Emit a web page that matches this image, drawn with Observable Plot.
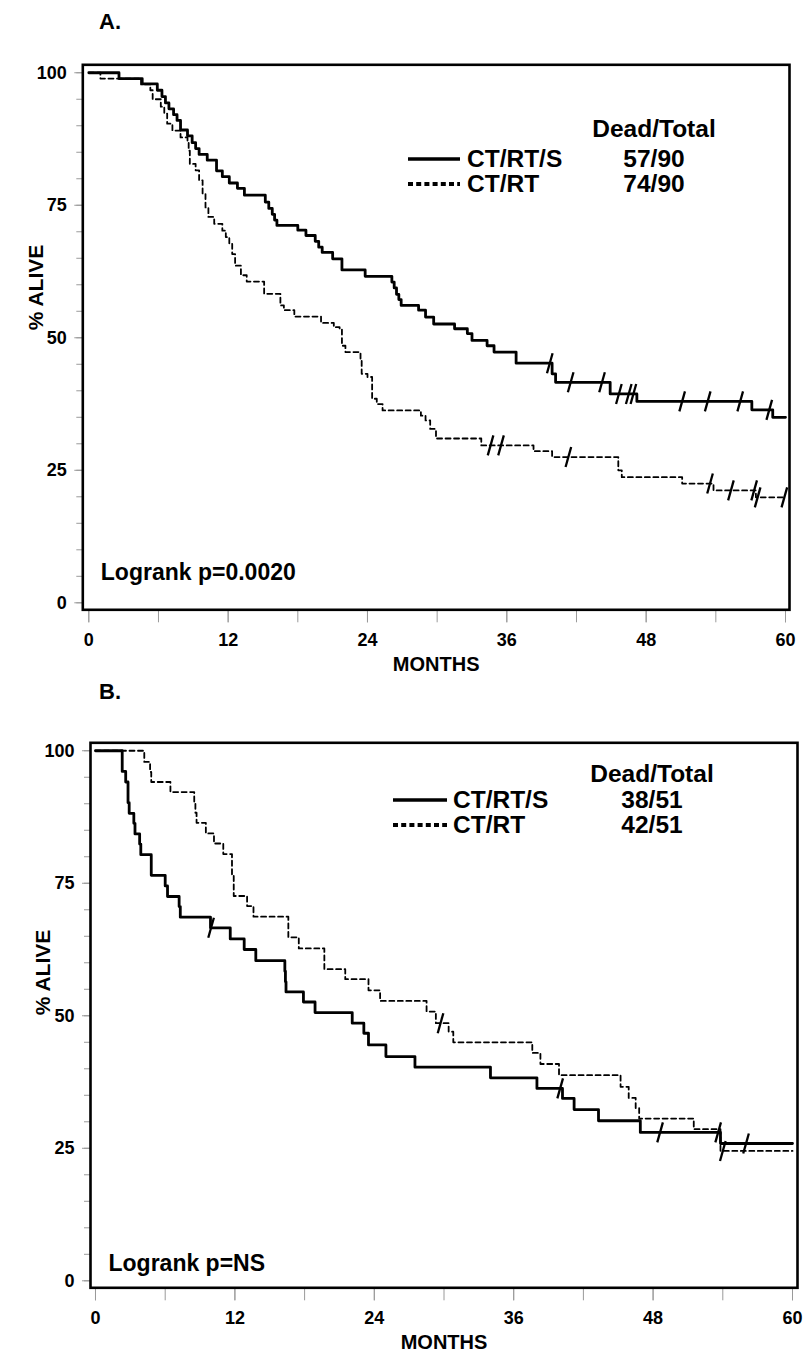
<!DOCTYPE html>
<html><head><meta charset="utf-8">
<script src="https://cdn.jsdelivr.net/npm/d3@7"></script>
<script src="https://cdn.jsdelivr.net/npm/@observablehq/plot@0.6"></script>
<style>
html,body{margin:0;padding:0;background:#fff;}
body{width:807px;height:1359px;position:relative;overflow:hidden;font-family:"Liberation Sans",Arial,sans-serif;font-weight:bold;color:#000;}
.panel{position:absolute;left:0;}
.title{position:absolute;font-size:22px;font-weight:bold;line-height:1;}
.legend{position:absolute;left:0;top:0;overflow:visible;}
</style></head><body>
<script>
// ---------- data ----------
const monthTicks = [0, 12, 24, 36, 48, 60];
const monthMinorTicks = [0, 6, 12, 18, 24, 30, 36, 42, 48, 54, 60];
const pctTicks = [0, 25, 50, 75, 100];
const pctMinorTicks = [0, 5, 10, 15, 20, 25, 30, 35, 40, 45, 50, 55, 60, 65, 70, 75, 80, 85, 90, 95, 100];
const seriesNames = ["CT/RT/S", "CT/RT"];

// Panel A  [month, % alive] — value after each step
const solidA = [[0,100],[2.6,98.9],[4.6,97.9],[5.9,96.7],[6.3,95.5],[6.6,94.3],[6.9,93.2],[7.3,92.1],[7.6,91.0],[7.9,89.2],[8.5,88.1],[8.9,86.8],[9.2,85.7],[9.5,84.6],[10.2,83.5],[11.0,81.5],[11.5,80.4],[12.1,79.2],[12.8,78.2],[13.4,76.9],[15.2,75.6],[15.5,74.4],[15.8,73.3],[16.0,72.2],[16.2,71.2],[18.0,70.3],[18.7,69.3],[19.5,68.2],[19.8,67.1],[20.1,66.1],[21.0,64.9],[21.8,62.8],[23.8,61.6],[26.1,60.5],[26.3,59.4],[26.5,58.2],[26.7,57.2],[26.9,56.1],[28.4,55.2],[29.0,53.9],[29.7,52.6],[31.5,51.7],[32.6,50.8],[33.0,49.5],[34.3,48.5],[34.9,47.3],[36.8,45.2],[39.9,43.2],[40.2,41.6],[44.9,39.4],[47.2,38.0],[57.1,36.4],[58.9,35.0],[60,35.0]];
const censSolidA = [39.7, 41.5, 44.2, 45.65, 46.5, 46.9, 51.1, 53.3, 56.1, 58.6];
const dashedA = [[0,100],[1.0,98.9],[4.5,97.8],[5.3,96.7],[5.5,95.0],[6.2,93.6],[6.5,92.3],[6.75,90.4],[7.2,89.1],[7.9,87.8],[8.5,87.2],[8.6,85.3],[8.7,82.8],[9.2,81.6],[9.5,79.7],[9.8,77.2],[10.05,74.6],[10.3,72.8],[10.8,71.5],[11.5,70.2],[11.8,69.0],[12.1,67.7],[12.35,65.8],[12.6,63.6],[13.1,61.8],[13.6,60.6],[15.1,58.3],[16.5,56.1],[16.8,55.2],[17.7,54.0],[20.0,52.8],[21.1,52.0],[21.6,51.6],[21.8,48.5],[22.1,47.3],[23.4,45.7],[23.5,43.2],[24.0,42.6],[24.4,38.5],[24.8,37.5],[25.3,36.3],[28.6,35.3],[29.0,34.4],[29.4,32.8],[29.9,31.0],[33.8,29.7],[38.3,28.6],[39.9,27.5],[45.6,25.0],[45.9,23.7],[51.1,22.5],[53.8,21.2],[57.45,19.9],[60,19.9]];
const censDashedA = [34.6, 35.5, 41.3, 53.5, 55.3, 57.3, 57.6, 59.9];
const deadTotalA = ["57/90", "74/90"];

// Panel B
const solidB = [[0,100],[2.3,96.1],[2.6,94.1],[2.8,90.2],[2.9,88.2],[3.3,86.3],[3.4,84.3],[3.8,82.4],[3.9,80.4],[4.8,76.5],[6.0,74.5],[6.2,72.5],[7.2,70.6],[7.3,68.6],[9.9,66.6],[11.6,64.5],[12.8,62.5],[13.8,60.4],[16.3,58.4],[16.35,56.4],[16.4,54.5],[17.9,52.6],[18.9,50.6],[22.1,48.6],[23.1,46.7],[23.5,44.5],[25.0,42.3],[27.5,40.3],[34.0,38.3],[38.0,36.3],[40.2,34.4],[41.2,32.3],[43.3,30.2],[46.9,28.0],[53.8,25.9],[60,25.9]];
const censSolidB = [9.95, 40.0, 48.6, 53.6, 56.0];
const dashedB = [[0,100],[4.2,97.9],[4.7,96.0],[4.8,94.1],[6.45,92.2],[8.5,90.3],[8.6,88.3],[8.7,86.4],[9.5,84.4],[10.2,82.5],[11.0,80.5],[11.75,76.5],[11.9,72.6],[13.05,70.7],[13.6,68.7],[16.6,64.8],[17.5,62.7],[19.7,58.8],[21.5,56.9],[23.5,54.8],[24.5,52.8],[28.5,50.8],[29.3,48.6],[30.4,47.0],[30.8,45.0],[37.6,43.0],[38.3,40.9],[39.9,38.8],[45.2,36.6],[45.9,34.5],[46.5,32.6],[46.8,30.6],[51.5,28.6],[53.8,24.5],[60,24.5]];
const censDashedB = [29.7, 54.0];
const deadTotalB = ["38/51", "42/51"];

// ---------- drawing ----------
const FONT = '"Liberation Sans", Arial, sans-serif';
const slash = {
  draw(ctx, size) {
    const h = Math.sqrt(size / Math.PI); // = r
    ctx.moveTo(-0.28 * h, h);
    ctx.lineTo(0.28 * h, -h);
  }
};
function valueAt(curve, t) {
  let v = curve[0][1];
  for (const [ti, vi] of curve) if (ti <= t) v = vi;
  return v;
}
function panel(cfg) {
  const toObj = (arr) => arr.map(([t, s]) => ({t, s}));
  const cens = (curve, times) => times.map((t) => ({t, s: valueAt(curve, t)}));
  const H = 680;
  return Plot.plot({
    width: 807, height: H,
    marginLeft: cfg.frameLeft, marginRight: 807 - cfg.frameRight,
    marginTop: 64.3, marginBottom: H - 609.3,
    x: {domain: cfg.xDomain},
    y: {domain: [-1.32, 101.5]},
    style: {fontFamily: FONT, fontWeight: "bold", color: "#000", background: "transparent", overflow: "visible"},
    marks: [
      Plot.axisX(monthMinorTicks, {tickSize: 13, stroke: "#9a9a9a", text: null, label: null}),
      Plot.axisX(monthTicks, {tickSize: 13, tickPadding: 10, stroke: "#9a9a9a", fill: "#000", fontSize: 18, fontWeight: "bold", label: null}),
      Plot.axisY(pctMinorTicks, {tickSize: 6, stroke: "#9a9a9a", text: null, label: null}),
      Plot.axisY(pctTicks, {tickSize: 8, tickPadding: 8, stroke: "#9a9a9a", fill: "#000", fontSize: 18, fontWeight: "bold", label: null}),
      Plot.line(toObj(cfg.dashed), {x: "t", y: "s", curve: "step-after", stroke: "#000", strokeWidth: 1.8, strokeDasharray: "5,3.5"}),
      Plot.line(toObj(cfg.solid), {x: "t", y: "s", curve: "step-after", stroke: "#000", strokeWidth: 2.8}),
      Plot.dot(cens(cfg.solid, cfg.censSolid), {x: "t", y: "s", symbol: slash, r: 10, fill: "none", stroke: "#000", strokeWidth: 2.3}),
      Plot.dot(cens(cfg.dashed, cfg.censDashed), {x: "t", y: "s", symbol: slash, r: 10, fill: "none", stroke: "#000", strokeWidth: 2.3}),
      Plot.frame({stroke: "#000", strokeWidth: 2.6}),
      Plot.text([cfg.logrank], {frameAnchor: "bottom-left", dx: 18, dy: cfg.logrankDy, textAnchor: "start", lineAnchor: "middle", fontSize: 23, fontWeight: "bold", fill: "#000"}),
      Plot.text(["% ALIVE"], {frameAnchor: "left", dx: -47, dy: cfg.ylabelDy, rotate: -90, fontSize: 21, fontWeight: "bold", fill: "#000"}),
      Plot.text(["MONTHS"], {frameAnchor: "bottom", dy: 55, lineAnchor: "middle", fontSize: 20, fontWeight: "bold", fill: "#000"})
    ]
  });
}

function addPanel(top, cfg, title, leg) {
  const wrap = document.createElement("div");
  wrap.className = "panel";
  wrap.style.top = top + "px";
  wrap.appendChild(panel(cfg));
  document.body.appendChild(wrap);

  const t = document.createElement("div");
  t.className = "title";
  t.textContent = title;
  t.style.left = leg.titleX + "px";
  t.style.top = leg.titleY + "px";
  document.body.appendChild(t);

  // legend
  const svg = d3.select(document.body).append("svg").attr("class", "legend")
    .attr("width", 807).attr("height", 1359)
    .style("font-family", FONT).style("font-weight", "bold").style("font-size", "24.5px");
  svg.append("text").attr("x", leg.numX).attr("y", leg.headY).attr("text-anchor", "middle").text("Dead/Total");
  seriesNames.forEach((name, i) => {
    const y = leg.rowY[i];
    svg.append("line").attr("x1", leg.lineX[0]).attr("x2", leg.lineX[1])
      .attr("y1", y - 8).attr("y2", y - 8).attr("stroke", "#000")
      .attr("stroke-width", i === 0 ? 3.4 : 3.8)
      .attr("stroke-dasharray", i === 0 ? null : "5,3.2");
    svg.append("text").attr("x", leg.nameX).attr("y", y).text(name);
    svg.append("text").attr("x", leg.numX).attr("y", y).attr("text-anchor", "middle").text(leg.counts[i]);
  });
}

addPanel(0, {
  solid: solidA, dashed: dashedA, censSolid: censSolidA, censDashed: censDashedA,
  frameLeft: 82.3, frameRight: 789, xDomain: [-0.517, 60.344],
  logrank: "Logrank p=0.0020", logrankDy: -37, ylabelDy: -7
}, "A.", {titleX: 99, titleY: 11, headY: 137, rowY: [167, 192], lineX: [408, 460], nameX: 467, numX: 654, counts: deadTotalA});

addPanel(678.4, {
  solid: solidB, dashed: dashedB, censSolid: censSolidB, censDashed: censDashedB,
  frameLeft: 90, frameRight: 797, xDomain: [-0.43, 60.43],
  logrank: "Logrank p=NS", logrankDy: -24, ylabelDy: 0
}, "B.", {titleX: 99, titleY: 681, headY: 782, rowY: [808, 833], lineX: [393, 447], nameX: 453, numX: 652, counts: deadTotalB});
</script>
</body></html>
